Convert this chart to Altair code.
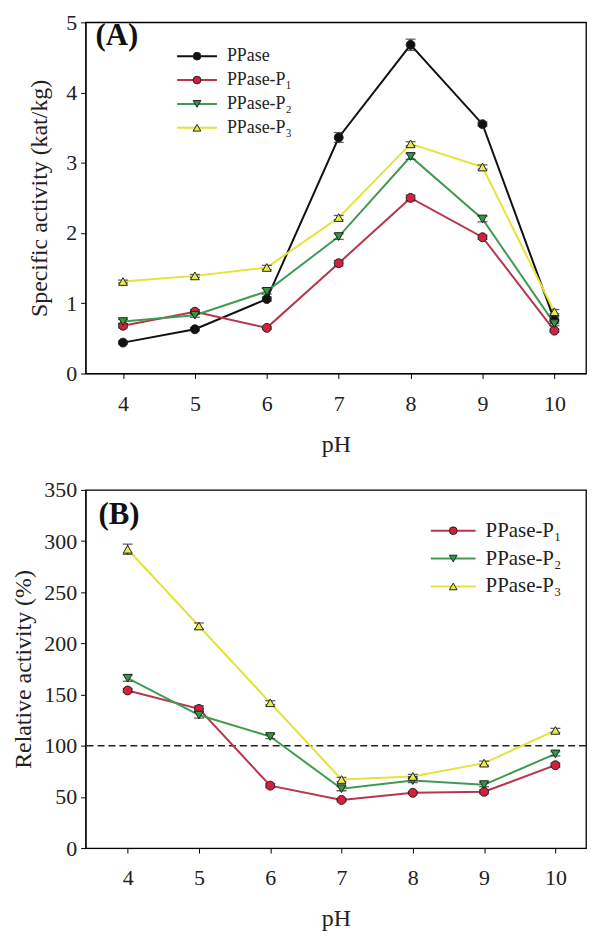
import altair as alt
import pandas as pd

ph = [4, 5, 6, 7, 8, 9, 10]

series_a = ["PPase", "PPase-P₁", "PPase-P₂", "PPase-P₃"]
series_b = ["PPase-P₁", "PPase-P₂", "PPase-P₃"]

# Panel A: specific activity (kat/kg)
ppase_a = [0.44, 0.63, 1.06, 3.36, 4.68, 3.55, 0.76]
ppase_a_err = [0.02, 0.02, 0.03, 0.07, 0.08, 0.03, 0.05]
p1_a = [0.68, 0.88, 0.65, 1.57, 2.50, 1.94, 0.61]
p1_a_err = [0.03, 0.03, 0.02, 0.04, 0.04, 0.03, 0.02]
p2_a = [0.74, 0.83, 1.17, 1.95, 3.09, 2.20, 0.71]
p2_a_err = [0.03, 0.03, 0.04, 0.04, 0.04, 0.04, 0.03]
p3_a = [1.31, 1.39, 1.51, 2.22, 3.27, 2.94, 0.88]
p3_a_err = [0.02, 0.02, 0.03, 0.03, 0.03, 0.03, 0.03]

# Panel B: relative activity (%)
p1_b = [154, 136, 61, 47, 54, 55, 81]
p1_b_err = [2, 3, 2, 1, 1, 2, 2]
p2_b = [166, 130, 109, 58, 66, 62, 92]
p2_b_err = [3, 3, 2, 2, 2, 2, 2]
p3_b = [292, 217, 142, 67, 70, 83, 115]
p3_b_err = [5, 3, 2, 2, 2, 2, 2]

line_colors = {"PPase": "#111111", "PPase-P₁": "#b8364c", "PPase-P₂": "#429a52", "PPase-P₃": "#e3e33a"}
fill_colors = {"PPase": "#111111", "PPase-P₁": "#d3203c", "PPase-P₂": "#2f9a3f", "PPase-P₃": "#eaea4a"}
shapes = {"PPase": "circle", "PPase-P₁": "circle", "PPase-P₂": "triangle-down", "PPase-P₃": "triangle-up"}

FONT = "Liberation Serif"


def make_df(names, vals, errs):
    rows = []
    for name, v, e in zip(names, vals, errs):
        for x, y, err in zip(ph, v, e):
            rows.append({"series": name, "pH": x, "val": y, "lo": y - err, "hi": y + err})
    return pd.DataFrame(rows)


def panel(df, names, ymax, ystep, ytitle, label, width, height, xdomain, title_pad,
          leg_x0, leg_len, leg_y0, leg_dy, leg_font, label_xy, ref_line=None):
    xsc = alt.Scale(domain=xdomain, nice=False, zero=False)
    ysc = alt.Scale(domain=[0, ymax], nice=False)
    cscale = alt.Scale(domain=names, range=[line_colors[n] for n in names])
    fscale = alt.Scale(domain=names, range=[fill_colors[n] for n in names])
    sscale = alt.Scale(domain=names, range=[shapes[n] for n in names])
    xax = alt.Axis(values=ph, format="d", title="pH", grid=False, tickSize=5, labelPadding=15,
                   titlePadding=18, labelFontSize=22, titleFontSize=24, domainColor="black",
                   tickColor="black", labelColor="#222", titleColor="#222", titleFontWeight="normal")
    yax = alt.Axis(values=list(range(0, int(ymax) + 1, ystep)), format="d", title=ytitle, grid=False,
                   tickSize=5, labelPadding=4, titlePadding=title_pad, labelFontSize=22,
                   titleFontSize=24, domainColor="black", tickColor="black", labelColor="#222",
                   titleColor="#222", titleFontWeight="normal")
    base = alt.Chart(df)
    X = alt.X("pH:Q", scale=xsc, axis=xax)
    layers = []
    if ref_line is not None:
        layers.append(alt.Chart(pd.DataFrame({"r": [ref_line]})).mark_rule(
            color="#222", strokeDash=[7, 4], strokeWidth=1.5).encode(y=alt.Y("r:Q", scale=ysc, axis=yax)))
    layers.append(base.mark_line(strokeWidth=2).encode(
        x=X, y=alt.Y("val:Q", scale=ysc, axis=yax),
        color=alt.Color("series:N", scale=cscale, legend=None),
        order=alt.Order("pH:Q")))
    layers.append(base.mark_rule(color="#222", strokeWidth=1.2).encode(
        x="pH:Q", y="lo:Q", y2="hi:Q"))
    layers.append(base.mark_tick(orient="horizontal", size=10, thickness=1.3, color="#222").encode(
        x="pH:Q", y="lo:Q"))
    layers.append(base.mark_tick(orient="horizontal", size=10, thickness=1.3, color="#222").encode(
        x="pH:Q", y="hi:Q"))
    layers.append(base.mark_point(filled=True, size=80, stroke="#222", strokeWidth=1, opacity=1).encode(
        x="pH:Q", y="val:Q",
        fill=alt.Fill("series:N", scale=fscale, legend=None),
        shape=alt.Shape("series:N", scale=sscale, legend=None)))

    # legend (drawn inside the plot)
    leg = pd.DataFrame({"series": names, "ly": [leg_y0 + i * leg_dy for i in range(len(names))]})
    lbase = alt.Chart(leg)
    LY = alt.Y("ly:Q", scale=None)
    layers.append(lbase.mark_rule(strokeWidth=2).encode(
        x=alt.value(leg_x0), x2=alt.value(leg_x0 + leg_len), y=LY,
        color=alt.Color("series:N", scale=cscale, legend=None)))
    layers.append(lbase.mark_point(filled=True, size=60, stroke="#222", strokeWidth=1, opacity=1).encode(
        x=alt.value(leg_x0 + leg_len / 2), y=LY,
        fill=alt.Fill("series:N", scale=fscale, legend=None),
        shape=alt.Shape("series:N", scale=sscale, legend=None)))
    layers.append(lbase.mark_text(align="left", baseline="middle", fontSize=leg_font, font=FONT,
                                  color="#222").encode(
        x=alt.value(leg_x0 + leg_len + 10), y=LY, text="series:N"))
    layers.append(alt.Chart(pd.DataFrame({"t": [label]})).mark_text(
        align="left", baseline="middle", fontSize=31, fontWeight="bold", font=FONT, color="#111").encode(
        x=alt.value(label_xy[0]), y=alt.value(label_xy[1]), text="t:N"))
    return alt.layer(*layers).properties(width=width, height=height)


df_a = make_df(series_a, [ppase_a, p1_a, p2_a, p3_a], [ppase_a_err, p1_a_err, p2_a_err, p3_a_err])
df_b = make_df(series_b, [p1_b, p2_b, p3_b], [p1_b_err, p2_b_err, p3_b_err])

chart_a = panel(df_a, series_a, 5, 1, "Specific activity (kat/kg)", "(A)", 503, 353, [3.48, 10.44], 14,
                92, 40, 34, 24, 18, (10, 14))
chart_b = panel(df_b, series_b, 350, 50, "Relative activity (%)", "(B)", 503, 360, [3.41, 10.43], 8,
                347, 45, 41, 28, 21, (13, 25), ref_line=100)

chart = alt.vconcat(chart_a, chart_b, spacing=21).properties(
    padding={"left": 3, "top": 0, "right": 4, "bottom": 4}
).configure(font=FONT).configure_view(stroke="black", strokeWidth=1.3)

chart.save("out.html", embed_options={"renderer": "svg", "actions": False})
